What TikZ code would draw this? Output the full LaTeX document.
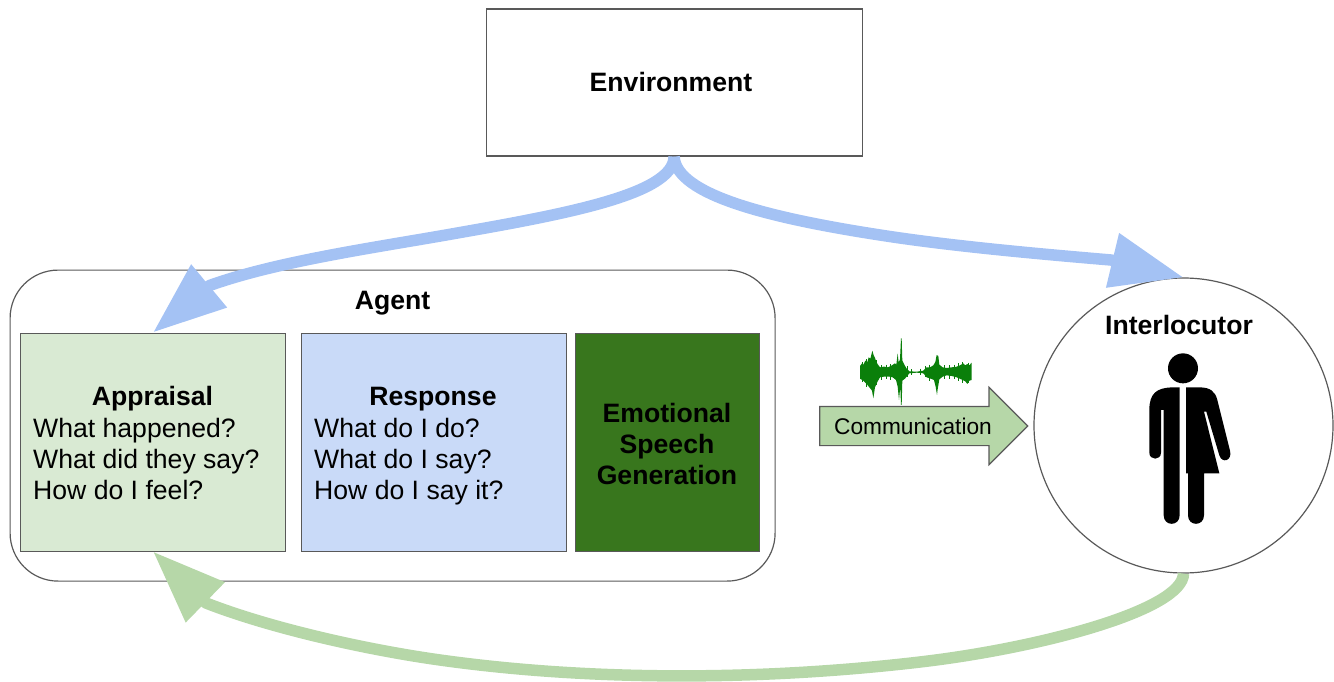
\documentclass[tikz,border=0pt]{standalone}
\usepackage{fontspec}
\setmainfont{Liberation Sans}
\usetikzlibrary{arrows.meta,shapes.geometric,shapes.arrows}
\definecolor{edgegray}{HTML}{595959}
\definecolor{lgreen}{HTML}{D9EAD3}
\definecolor{lblue}{HTML}{C9DAF8}
\definecolor{dgreen}{HTML}{38761D}
\definecolor{mgreen}{HTML}{B6D7A8}
\definecolor{arrowblue}{HTML}{A4C2F4}
\definecolor{wave}{HTML}{0A7F0A}
\tikzset{
  boxed/.style={draw=edgegray,line width=1.2pt,inner sep=0pt,anchor=north west},
  big/.style={font=\fontsize{26.6}{31}\selectfont,inner sep=0pt},
  bigb/.style={font=\fontsize{26.6}{31}\selectfont\bfseries,inner sep=0pt},
  bluearrow/.style={draw=arrowblue,line width=11.5pt,line join=round,-{Triangle[length=73pt,width=53pt]},color=arrowblue},
  greenarrow/.style={draw=mgreen,line width=11.5pt,line join=round,-{Triangle[length=73pt,width=53pt]},color=mgreen},
}
\begin{document}
\begin{tikzpicture}[x=1pt,y=-1pt]
\useasboundingbox (0,0) rectangle (1334,682);
% boxes
\node[boxed,minimum width=376pt,minimum height=147pt] (env) at (485.5,8.5) {};
\node[bigb] (envt) at (671,82) {Environment};
\node[boxed,rounded corners=48pt,minimum width=765pt,minimum height=311pt] (agent) at (9.5,269.5) {};
\node[bigb] (agentt) at (392.5,303) {Agent};
\node[boxed,fill=lgreen,minimum width=265pt,minimum height=218pt] (app) at (19.5,332.5) {};
\node[boxed,fill=lblue,minimum width=265pt,minimum height=218pt] (resp) at (300.5,332.5) {};
\node[boxed,fill=dgreen,minimum width=184pt,minimum height=218pt] (gen) at (574.5,332.5) {};
\node[bigb] (appt) at (152.5,399) {Appraisal};
\node[big,anchor=north west,align=left] (appq) at (33,418) {What happened?\\What did they say?\\How do I feel?};
\node[bigb] (respt) at (433,399) {Response};
\node[big,anchor=north west,align=left] (respq) at (314,418) {What do I do?\\What do I say?\\How do I say it?};
\node[bigb,align=center] (gent) at (667,443.5) {Emotional\\Speech\\Generation};
% interlocutor
\node[ellipse,draw=edgegray,line width=1.2pt,inner sep=0pt,minimum width=299pt,minimum height=295pt] (circ) at (1183.5,425.5) {};
\node[bigb] (circt) at (1179,325) {Interlocutor};
% communication arrow
\node[single arrow,draw=edgegray,fill=mgreen,line width=1.2pt,inner sep=0pt,minimum height=208pt,
  single arrow head extend=19pt,single arrow tip angle=90,single arrow head indent=0pt,anchor=tip,
  ] (comm) at (1028.5,426) {\rule[-19pt]{0pt}{38pt}};
\node[font=\fontsize{22.7}{26}\selectfont,inner sep=0pt] (commt) at (913,426.5) {Communication};
% waveform
\begin{scope}[shift={(810,330)},x=0.3333pt,y=-0.3333pt]
\fill[wave] (150,108) -- (156,100) -- (160,104) -- (166,92) -- (172,96) -- (176,82) -- (181,86) -- (187,62) -- (191,76) -- (195,84) -- (199,96) -- (204,104) -- (210,112) -- (222,110) -- (234,112) -- (246,106) -- (255,100) -- (259,104) -- (263,70) -- (266,98) -- (270,88) -- (273,25) -- (275,25) -- (277,92) -- (283,104) -- (290,116) -- (298,124) -- (320,125) -- (340,122) -- (350,112) -- (360,112) -- (370,106) -- (376,96) -- (380,75) -- (385,78) -- (388,104) -- (398,112) -- (410,114) -- (425,112) -- (440,110) -- (450,106) -- (460,100) -- (466,106) -- (472,102) -- (478,106) -- (485,98)
 -- (485,150) -- (478,152) -- (472,162) -- (466,154) -- (458,150) -- (440,142) -- (425,138) -- (410,136) -- (398,140) -- (388,148) -- (383,178) -- (381,195) -- (377,170) -- (372,150) -- (362,146) -- (350,142) -- (340,130) -- (320,128) -- (298,130) -- (285,146) -- (277,152) -- (275,225) -- (273,225) -- (271,170) -- (267,210) -- (263,170) -- (258,150) -- (248,142) -- (238,140) -- (222,140) -- (210,142) -- (202,156) -- (195,172) -- (190,205) -- (186,182) -- (178,172) -- (170,162) -- (160,152) -- (150,146) -- cycle;
\foreach \hx/\ht/\hb in {158/96/156,168/88/170,200/90/165,214/106/150,228/104/148,240/102/150,292/108/142,304/118/136,330/116/134,345/108/140,358/104/152,402/106/146,418/106/146,432/104/148,446/100/152,456/96/158,476/98/160}
  \draw[wave,line width=0.7pt] (\hx,\ht) -- (\hx,\hb);
\end{scope}
% person
\begin{scope}[shift={(1100,330)},x=0.3333pt,y=-0.3333pt]
\node[circle,fill=black,minimum size=30pt,inner sep=0pt] (headc) at (249,115) {};
\fill[black] (239,172) -- (215,172) .. controls (170,174) and (148,190) .. (148,240) -- (148,368) .. controls (148,392) and (183,392) .. (183,368) -- (183,240) -- (191,240) -- (191,556) .. controls (191,590) and (239,590) .. (239,556) -- cycle;
\fill[black] (258,172) -- (300,172) .. controls (330,173) and (345,183) .. (352,210) -- (390,362) .. controls (398,392) and (366,402) .. (358,376) -- (319,245) -- (312,245) -- (358,430) -- (312,430) -- (312,556) .. controls (312,590) and (264,590) .. (264,556) -- (264,430) -- (258,430) -- cycle;
\end{scope}
% anchors on the Appraisal box
\coordinate (apptop) at (153,332.5);
\coordinate (appbot) at (153,551.5);
% connectors
\draw[bluearrow] (env.south) .. controls (674,195) and (560,215) .. (446,235)
  .. controls (370,248.3) and (275,262) .. (209.6,285.5) -- (apptop);
\draw[bluearrow] (env.south) .. controls (676,195) and (770,218) .. (880,235)
  .. controls (950,246) and (1040,254) .. (1111,260) -- (circ.north);
\draw[greenarrow] (circ.south) .. controls (1183,610) and (1040,648) .. (920,662)
  .. controls (760,680.7) and (590,681) .. (440,660)
  .. controls (365,649.5) and (270,628) .. (206,603) -- (appbot);
\end{tikzpicture}
\end{document}
